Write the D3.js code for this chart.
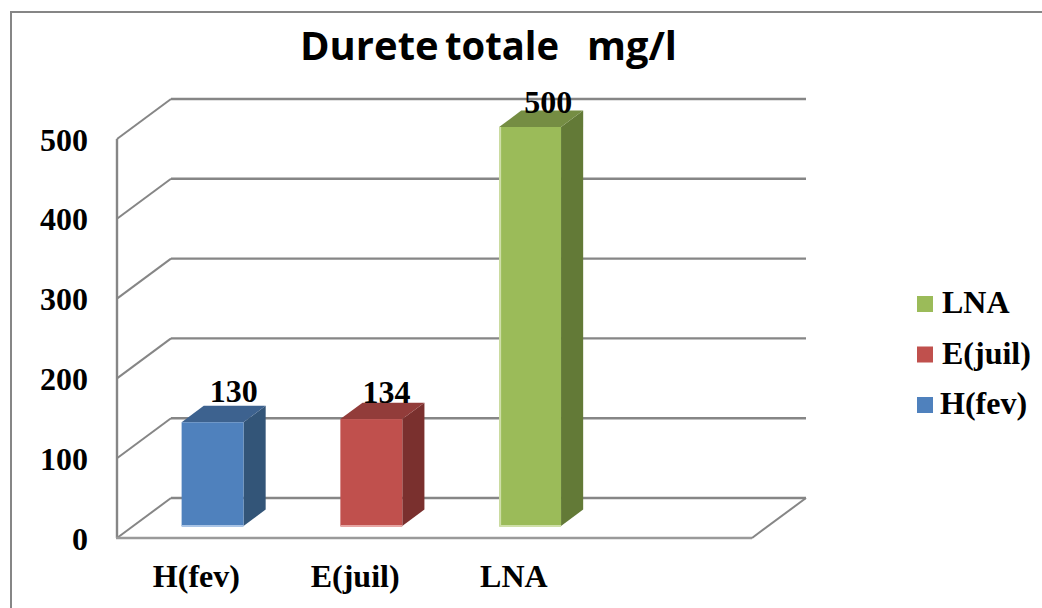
<!DOCTYPE html>
<html>
<head>
<meta charset="utf-8">
<script src="https://cdn.jsdelivr.net/npm/d3@7"></script>
<style>
  html, body { margin: 0; padding: 0; background: #fff; }
  svg { display: block; }
  text { fill: #000; }
  .serif { font-family: "Liberation Serif", serif; font-weight: bold; font-size: 32px; }
  .title { font-family: "Open Sans", sans-serif; font-weight: 700; font-size: 39px; }
</style>
</head>
<body>
<div id="chart"></div>
<script>
var categories = ["H(fev)", "E(juil)", "LNA"];
var values = [130, 134, 500];
var yTicks = [0, 100, 200, 300, 400, 500];
var legendOrder = ["LNA", "E(juil)", "H(fev)"];
var titleWords = ["Durete", "totale", "mg/l"];

var colors = {
  "H(fev)": { front: "#4F81BD", side: "#335578", top: "#3D628F", edge: "#A9C4E6" },
  "E(juil)": { front: "#C0504D", side: "#7A302E", top: "#923C3A", edge: "#E6A5A3" },
  "LNA": { front: "#9BBB59", side: "#637A37", top: "#758D43", edge: "#CFDFA8" }
};

var w = 1042, h = 608;
var gridColor = "#868686";

// front plane of the chart, and how far the floor runs back
var plot = { left: 117, right: 752, top: 139, bot: 538 };
var depth = { dx: 54, dy: -40 };

var svg = d3.select("#chart").append("svg")
  .attr("width", w)
  .attr("height", h);

var x = d3.scaleBand()
  .domain(categories.concat([""]))
  .range([plot.left, plot.right]);

var y = d3.scaleLinear()
  .domain([0, 500])
  .range([plot.bot, plot.top]);

// outer frame, only left and top show in the picture
svg.append("path")
  .attr("d", "M11,608 V12 H1042")
  .attr("fill", "none")
  .attr("stroke", "#868686")
  .attr("stroke-width", 2);

// words of the title are squeezed to where they sit in the picture,
// the lengths include the trailing space of the first two words
var titleX = [300, 445, 587], titleLen = [149, 124, 90];

svg.append("text")
  .attr("class", "title")
  .attr("y", 60)
  .selectAll("tspan")
  .data(titleWords)
  .enter().append("tspan")
  .attr("x", function(d, i) { return titleX[i]; })
  .attr("textLength", function(d, i) { return titleLen[i]; })
  .attr("lengthAdjust", "spacingAndGlyphs")
  .text(function(d, i) { return i < 2 ? d + " " : d; });

// gridlines on the back wall and their slant on the side wall
var grid = svg.append("g").attr("fill", "none").attr("stroke", gridColor).attr("stroke-width", 2.4);

grid.selectAll(".back")
  .data(yTicks)
  .enter().append("line")
  .attr("class", "back")
  .attr("x1", plot.left + depth.dx)
  .attr("x2", plot.right + depth.dx)
  .attr("y1", function(d) { return y(d) + depth.dy; })
  .attr("y2", function(d) { return y(d) + depth.dy; });

grid.selectAll(".slant")
  .data(yTicks)
  .enter().append("line")
  .attr("class", "slant")
  .attr("x1", plot.left)
  .attr("x2", plot.left + depth.dx)
  .attr("y1", function(d) { return y(d); })
  .attr("y2", function(d) { return y(d) + depth.dy; })
  .attr("stroke-width", 2);

// axis walls
grid.append("line")
  .attr("x1", plot.left).attr("x2", plot.left)
  .attr("y1", y(500)).attr("y2", y(0));
grid.append("line")
  .attr("x1", plot.left - 1).attr("x2", plot.right)
  .attr("y1", y(0)).attr("y2", y(0))
  .attr("stroke", "#9A9A9A");
grid.append("line")
  .attr("x1", plot.right).attr("x2", plot.right + depth.dx)
  .attr("y1", y(0)).attr("y2", y(0) + depth.dy)
  .attr("stroke-width", 2);

// bars stand in the middle of the floor depth
var barW = x.bandwidth() * 0.39;
var near = 0.3, far = 0.71;

var bars = svg.selectAll(".bar")
  .data(categories)
  .enter().append("g")
  .attr("class", "bar");

function barLeft(d) {
  return x(d) + (x.bandwidth() - barW) / 2 + depth.dx * near;
}
function barY(v) {
  return y(v) + depth.dy * near;
}
var bx = depth.dx * (far - near), by = depth.dy * (far - near);

bars.append("path")
  .attr("fill", function(d) { return colors[d].side; })
  .attr("d", function(d, i) {
    var r = barLeft(d) + barW;
    return "M" + r + "," + barY(values[i]) + "L" + (r + bx) + "," + (barY(values[i]) + by) +
      "L" + (r + bx) + "," + (barY(0) + by) + "L" + r + "," + barY(0) + "Z";
  });

bars.append("path")
  .attr("fill", function(d) { return colors[d].top; })
  .attr("d", function(d, i) {
    var l = barLeft(d), t = barY(values[i]);
    return "M" + l + "," + t + "L" + (l + bx) + "," + (t + by) +
      "L" + (l + barW + bx) + "," + (t + by) + "L" + (l + barW) + "," + t + "Z";
  });

bars.append("rect")
  .attr("x", barLeft)
  .attr("y", function(d, i) { return barY(values[i]); })
  .attr("width", barW)
  .attr("height", function(d, i) { return barY(0) - barY(values[i]); })
  .attr("fill", function(d) { return colors[d].front; });

// pale bottom edge on each bar, only the green one shows it on the left too
bars.append("path")
  .attr("fill", "none")
  .attr("stroke", function(d) { return colors[d].edge; })
  .attr("stroke-width", 2)
  .attr("d", function(d, i) {
    var l = barLeft(d) + 1;
    if (d == "LNA") return "M" + l + "," + barY(values[i]) + "V" + barY(0) + "H" + (l + barW - 1);
    return "M" + (l - 1) + "," + barY(0) + "H" + (l + barW - 1);
  });

// labels do not sit the same way on each bar in the picture
var valNudgeX = [-1, -7, -4], valNudgeY = [-4, 0, 2];

svg.selectAll(".val")
  .data(categories)
  .enter().append("text")
  .attr("class", "val serif")
  .attr("text-anchor", "middle")
  .attr("x", function(d, i) { return barLeft(d) + barW / 2 + bx + valNudgeX[i]; })
  .attr("y", function(d, i) { return barY(values[i]) - 16 + valNudgeY[i]; })
  .text(function(d, i) { return values[i]; });

// y axis labels
var yAxis = d3.axisLeft(y)
  .tickValues(yTicks)
  .tickSize(0)
  .tickPadding(29);

var yG = svg.append("g")
  .attr("transform", "translate(" + plot.left + ",0)")
  .call(yAxis);
yG.select(".domain").remove();
yG.selectAll("text")
  .attr("class", "serif")
  .attr("dy", 11);
yG.attr("font-size", null).attr("font-family", null);

// category labels
var xAxis = d3.axisBottom(x)
  .tickValues(categories)
  .tickSize(0)
  .tickPadding(26);

var xG = svg.append("g")
  .attr("transform", "translate(0," + plot.bot + ")")
  .call(xAxis);
xG.select(".domain").remove();
xG.selectAll("text").attr("class", "serif");
xG.attr("font-size", null).attr("font-family", null);

// legend
var legend = svg.selectAll(".legend")
  .data(legendOrder)
  .enter().append("g")
  .attr("class", "legend")
  .attr("transform", function(d, i) { return "translate(917," + (296 + i * 50.5) + ")"; });

legend.append("rect")
  .attr("width", 16)
  .attr("height", 16)
  .attr("fill", function(d) { return colors[d].front; });

legend.append("text")
  .attr("class", "serif")
  .attr("x", function(d) { return d == "H(fev)" ? 23 : 25; })
  .attr("y", 17)
  .text(function(d) { return d; });
</script>
</body>
</html>
